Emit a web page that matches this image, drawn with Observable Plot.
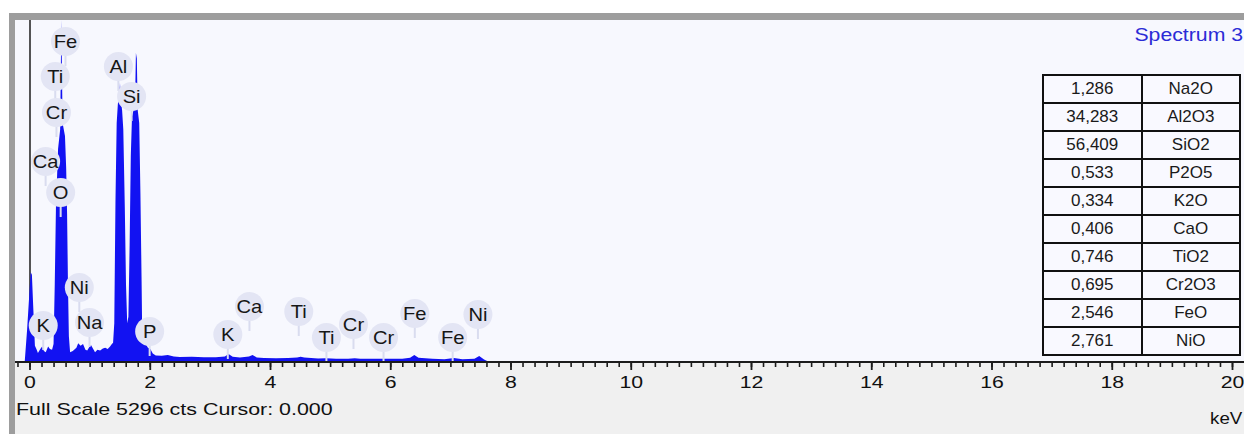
<!DOCTYPE html>
<html><head><meta charset="utf-8">
<script src="https://cdn.jsdelivr.net/npm/d3@7"></script>
<script src="https://cdn.jsdelivr.net/npm/@observablehq/plot@0.6"></script>
<style>
html,body{margin:0;padding:0;background:#fff;}
#wrap{position:relative;width:1244px;height:434px;overflow:hidden;font-family:"Liberation Sans",Arial,sans-serif;background:#fff;}
.abs{position:absolute;}
#gtop{left:9px;top:13px;width:1235px;height:7px;background:#9d9d9d;}
#gleft{left:9px;top:13px;width:6px;height:421px;background:#9d9d9d;}
#plotbg{left:15px;top:20px;width:1229px;height:342px;background:#f7f8fe;}
#lowbg{left:15px;top:362px;width:1229px;height:72px;background:#f0f0f0;}
#chart{left:15px;top:20px;width:1229px;height:380px;}
#axisline{left:15px;top:361px;width:1229px;height:2px;background:#1c1c1c;z-index:3;}
#title{right:1px;top:25px;font-size:18px;color:#2b2bd6;transform:scaleX(1.18);transform-origin:right center;white-space:nowrap;}
#caption{left:16px;top:400px;font-size:17px;color:#111;transform:scaleX(1.26);transform-origin:left center;white-space:nowrap;}
#unit{right:2px;top:409px;font-size:17px;color:#111;transform:scaleX(1.1);transform-origin:right center;}
#tbl{left:1042px;top:74px;z-index:4;border-collapse:collapse;width:199px;table-layout:fixed;}
#tbl td{border:2px solid #111;background:#f9f9ff;font-size:17px;color:#1a1a1a;text-align:center;padding:0;height:26px;line-height:26px;box-sizing:content-box;}
</style></head><body>
<div id="wrap">
  <div id="gtop" class="abs"></div>
  <div id="gleft" class="abs"></div>
  <div id="plotbg" class="abs"></div>
  <div id="lowbg" class="abs"></div>
  <div id="chart" class="abs"></div>
  <div id="axisline" class="abs"></div>
  <div id="title" class="abs">Spectrum 3</div>
  <table id="tbl" class="abs"></table>
  <div id="caption" class="abs">Full Scale 5296 cts Cursor: 0.000</div>
  <div id="unit" class="abs">keV</div>
</div>
<script>
// ---- spectrum (energy in keV, counts) ----
const energies = [-0.08,-0.04,0,0.02,0.04,0.06,0.09,0.12,0.14,0.18,0.21,0.24,0.27,0.31,0.34,0.375,0.40,0.42,0.44,0.475,0.51,0.53,0.55,0.59,0.61,0.625,0.64,0.655,0.675,0.72,0.78,0.81,0.85,0.89,0.93,0.96,1.0,1.025,1.06,1.09,1.13,1.175,1.22,1.26,1.30,1.34,1.37,1.39,1.41,1.43,1.45,1.47,1.49,1.505,1.52,1.54,1.56,1.585,1.605,1.625,1.645,1.665,1.685,1.705,1.73,1.755,1.77,1.785,1.80,1.825,1.845,1.865,1.875,1.92,1.97,2.01,2.05,2.10,2.2,2.3,2.4,2.5,2.7,2.9,3.1,3.25,3.31,3.38,3.5,3.65,3.71,3.78,3.9,4.1,4.3,4.45,4.51,4.57,4.8,4.93,5.1,5.3,5.41,5.5,5.7,5.95,6.2,6.33,6.40,6.47,6.7,6.9,7.06,7.2,7.4,7.48,7.56,7.62,7.64];
const counts   = [0,500,1100,1390,1350,900,250,190,140,200,240,170,150,240,200,190,280,1200,2400,3300,3600,5296,3700,3500,3000,2300,1200,400,150,170,220,290,250,280,190,180,240,260,200,150,190,180,210,220,200,240,280,300,600,2500,3700,4000,4100,4320,4050,3900,3600,2400,1200,600,700,1800,3200,3800,3900,4000,4785,4700,3900,3700,2600,1200,390,300,220,200,130,100,95,108,85,78,80,72,75,85,124,80,70,85,108,70,62,60,62,70,80,68,55,58,52,52,60,50,50,52,50,65,108,65,50,42,62,42,50,93,40,10,0];

// ---- peak labels ----
const peakElements = ["Fe","Ti","Cr","Ca","O","Al","Si","Ni","K","Na","P","K","Ca","Ti","Ti","Cr","Cr","Fe","Fe","Ni"];
const peakEnergies = [0.59,0.42,0.44,0.26,0.51,1.47,1.69,0.82,0.22,0.99,1.99,3.29,3.65,4.47,4.93,5.38,5.88,6.40,7.03,7.45];
const peakLabelCounts = [4971,4429,3871,3112,2632,4584,4119,1161,573,619,480,434,867,790,387,588,387,759,387,743];

// ---- quantification table ----
const tableValues = ["1,286","34,283","56,409","0,533","0,334","0,406","0,746","0,695","2,546","2,761"];
const tableOxides = ["Na2O","Al2O3","SiO2","P2O5","K2O","CaO","TiO2","Cr2O3","FeO","NiO"];

// ---- axis ----
const fullScale = 5296;
const majorTicks = [0,2,4,6,8,10,12,14,16,18,20];
const minorTicks = d3.range(-1, 101).map(i => +(i * 0.2).toFixed(1));

const spectrum = energies.map((e, i) => ({keV: e, cts: counts[i]}));
const labels = peakElements.map((el, i) => ({el, keV: peakEnergies[i], cts: peakLabelCounts[i]}));

const W = 1229, H = 380;
const plotH = 342;
const ctsPerPx = fullScale / plotH;
const blue = "#1212f2";
const bubble = "#e3e5f4";

const axisMarks = Plot.axisX ? [
  Plot.axisX({ticks: minorTicks, tickSize: 5, tickFormat: () => "", label: null, stroke: "#1c1c1c", strokeWidth: 1.6}),
  Plot.axisX({ticks: majorTicks, tickSize: 8, tickPadding: 5, fontSize: 17, label: null, stroke: "#1c1c1c", strokeWidth: 1.8, fill: "#111", tickFormat: d3.format("d")})
] : [];

const chart = Plot.plot({
  width: W, height: H,
  marginLeft: 14.5, marginRight: 12, marginTop: 0, marginBottom: H - plotH,
  style: {background: "transparent", fontFamily: "'Liberation Sans', Arial, sans-serif", overflow: "visible"},
  x: {domain: [0, 20], label: null, axis: Plot.axisX ? null : "bottom", ticks: majorTicks, tickSize: 8},
  y: {domain: [0, fullScale], axis: null, label: null},
  marks: [
    Plot.ruleX([0], {stroke: "#2a2a2a", strokeWidth: 1.6}),
    Plot.areaY(spectrum, {x: "keV", y: "cts", fill: blue, curve: "linear"}),
    ...axisMarks,
    Plot.ruleX(labels, {x: "keV", y1: "cts", y2: d => d.cts - 25 * ctsPerPx, stroke: "#d9dcef", strokeWidth: 2}),
    Plot.dot(labels, {x: "keV", y: "cts", r: 14.5, fill: bubble, stroke: null}),
    Plot.text(labels, {x: "keV", y: "cts", text: "el", fontSize: 18, fill: "#161616", dy: 1})
  ]
});
document.getElementById("chart").appendChild(chart);

// widen tick labels like the original instrument font
chart.querySelectorAll('g[aria-label="x-axis tick label"] text').forEach(t => {
  const tr = t.getAttribute("transform") || "";
  t.setAttribute("transform", tr + " scale(1.25,1)");
});
chart.querySelectorAll('g[aria-label="text"] text').forEach(t => {
  const tr = t.getAttribute("transform") || "";
  if (tr) t.setAttribute("transform", tr + " scale(1.12,1)");
});

// table
const tbl = document.getElementById("tbl");
tableValues.forEach((v, i) => {
  const tr = document.createElement("tr");
  const a = document.createElement("td"); a.textContent = v;
  const b = document.createElement("td"); b.textContent = tableOxides[i];
  tr.appendChild(a); tr.appendChild(b); tbl.appendChild(tr);
});
</script>
</body></html>
